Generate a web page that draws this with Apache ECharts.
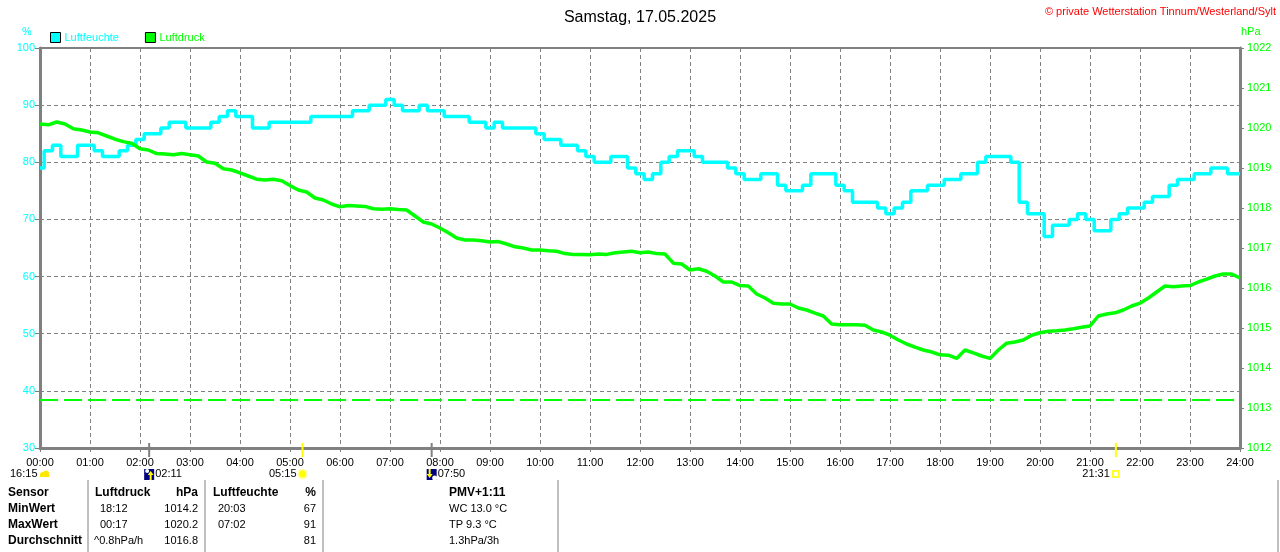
<!DOCTYPE html>
<html>
<head>
<meta charset="utf-8">
<script src="https://cdn.jsdelivr.net/npm/echarts@6/dist/echarts.min.js"></script>
<style>
html,body{margin:0;padding:0;background:#fff;}
#chart{width:1280px;height:552px;}
</style>
</head>
<body>
<div id="chart"></div>
<script>
// ---- data (10-minute samples, 00:00 .. 24:00) ----
const stepMinutes = 10;
const humidity = [
  79,82,83,81,81,83,
  83,82,81,81,82,83,
  84,85,85,86,87,87,
  86,86,86,87,88,89,
  88,88,86,86,87,87,
  87,87,87,88,88,88,
  88,88,89,89,90,90,
  91,90,89,89,90,89,
  89,88,88,88,87,87,
  86,87,86,86,86,86,
  85,84,84,83,83,82,
  81,80,80,81,81,79,
  78,77,78,80,81,82,
  82,81,80,80,80,79,
  78,77,77,78,78,76,
  75,75,76,78,78,78,
  76,75,73,73,73,72,
  71,72,73,75,75,76,
  76,77,77,78,78,80,
  81,81,81,80,73,71,
  71,67,69,69,70,71,
  70,68,68,70,71,72,
  72,73,74,74,76,77,
  77,78,78,79,79,78,
  78
];
const pressure = [
  1020.10,1020.08,1020.15,1020.10,1019.98,1019.95,
  1019.90,1019.88,1019.80,1019.72,1019.66,1019.62,
  1019.48,1019.45,1019.36,1019.35,1019.33,1019.36,
  1019.33,1019.30,1019.15,1019.12,1018.98,1018.95,
  1018.88,1018.80,1018.72,1018.70,1018.72,1018.68,
  1018.56,1018.45,1018.40,1018.25,1018.20,1018.10,
  1018.03,1018.06,1018.05,1018.04,1017.98,1017.97,
  1017.98,1017.96,1017.95,1017.80,1017.65,1017.60,
  1017.50,1017.38,1017.25,1017.20,1017.20,1017.18,
  1017.15,1017.16,1017.10,1017.03,1017.00,1016.95,
  1016.95,1016.93,1016.92,1016.86,1016.84,1016.84,
  1016.83,1016.85,1016.84,1016.88,1016.90,1016.92,
  1016.88,1016.90,1016.86,1016.85,1016.62,1016.60,
  1016.45,1016.48,1016.42,1016.30,1016.15,1016.15,
  1016.06,1016.05,1015.85,1015.75,1015.62,1015.60,
  1015.60,1015.50,1015.45,1015.37,1015.30,1015.10,
  1015.08,1015.08,1015.08,1015.07,1014.95,1014.90,
  1014.82,1014.70,1014.60,1014.52,1014.45,1014.40,
  1014.33,1014.32,1014.24,1014.45,1014.38,1014.30,
  1014.24,1014.45,1014.62,1014.65,1014.70,1014.82,
  1014.88,1014.92,1014.93,1014.95,1014.98,1015.02,
  1015.05,1015.30,1015.35,1015.38,1015.45,1015.55,
  1015.62,1015.75,1015.90,1016.05,1016.03,1016.05,
  1016.06,1016.15,1016.22,1016.30,1016.35,1016.35,
  1016.25
];
const pressureRef = 1013.2;

// sun / moon events (minutes since midnight)
const eventMinutes = [131, 315, 470, 1291];
const eventLabels = ['02:11', '05:15', '07:50', '21:31'];
const eventKinds = ['moonrise', 'sunrise', 'moonset', 'sunset'];
const dayLengthLabel = '16:15';

// axes
const humMin = 30, humMax = 100, humStep = 10;
const presMin = 1012, presMax = 1022, presStep = 1;
const timeMax = 1440, timeStep = 60;

// texts
const titleText = 'Samstag, 17.05.2025';
const copyrightText = '\u00A9 private Wetterstation Tinnum/Westerland/Sylt';
const seriesNames = ['Luftfeuchte', 'Luftdruck'];

// table
const tableHeader = ['Sensor', 'Luftdruck', 'hPa', 'Luftfeuchte', '%', 'PMV+1:11'];
const rowLabels = ['MinWert', 'MaxWert', 'Durchschnitt'];
const pressTimes = ['18:12', '00:17', '^0.8hPa/h'];
const pressVals = ['1014.2', '1020.2', '1016.8'];
const humTimes = ['20:03', '07:02', ''];
const humVals = ['67', '91', '81'];
const extraInfo = ['WC 13.0 \u00B0C', 'TP 9.3 \u00B0C', '1.3hPa/3h'];

// ---- chart ----
const FF = '"Liberation Sans", Arial, sans-serif';
const CYAN = '#00ffff', GREEN = '#00ff00', GRAY = '#808080', YEL = '#ffff00';
const pad2 = n => (n < 10 ? '0' : '') + n;

const humData = humidity.map((v, i) => [i * stepMinutes, v]);
const presData = pressure.map((v, i) => [i * stepMinutes, v]);
const eventData = eventMinutes.map((m, i) => [m, humMin, i]);

function renderEvent(params, api) {
  const i = api.value(2);
  const p = api.coord([api.value(0), api.value(1)]);
  const x = p[0], y = p[1];
  const kind = eventKinds[i];
  const isSun = kind === 'sunrise' || kind === 'sunset';
  const iy = y + 26;
  const ch = [];
  ch.push({type: 'rect', shape: {x: x - 1, y: y - 5, width: 2, height: 14}, style: {fill: isSun ? YEL : GRAY}});
  if (kind === 'sunrise') {
    ch.push({type: 'circle', shape: {cx: x, cy: iy, r: 5.5}, style: {fill: '#ffffb0'}});
    ch.push({type: 'circle', shape: {cx: x, cy: iy, r: 3.5}, style: {fill: YEL}});
  } else if (kind === 'sunset') {
    ch.push({type: 'rect', shape: {x: x - 3, y: iy - 3, width: 6, height: 6}, style: {fill: '#fff', stroke: YEL, lineWidth: 1.5}});
  } else if (kind === 'moonrise') {
    ch.push({type: 'rect', shape: {x: x - 5, y: iy - 5, width: 10, height: 11}, style: {fill: '#000080'}});
    ch.push({type: 'circle', shape: {cx: x - 2, cy: iy - 3, r: 2}, style: {fill: '#fff'}});
    ch.push({type: 'polygon', shape: {points: [[x + 0.5, iy + 6], [x + 0.5, iy + 1], [x - 1.5, iy + 1], [x + 1.5, iy - 3], [x + 4.5, iy + 1], [x + 2.5, iy + 1], [x + 2.5, iy + 6]]}, style: {fill: YEL}});
  } else {
    ch.push({type: 'rect', shape: {x: x - 5, y: iy - 5, width: 10, height: 11}, style: {fill: '#000080'}});
    ch.push({type: 'circle', shape: {cx: x + 3, cy: iy + 4, r: 2.5}, style: {fill: '#fff'}});
    ch.push({type: 'polygon', shape: {points: [[x - 3, iy - 5], [x - 3, iy], [x - 5, iy], [x - 2, iy + 4], [x + 1, iy], [x - 1, iy], [x - 1, iy - 5]]}, style: {fill: YEL}});
  }
  ch.push({type: 'text', style: {
    text: eventLabels[i], x: isSun ? x - 6 : x + 6, y: iy,
    align: isSun ? 'right' : 'left', verticalAlign: 'middle',
    font: '11px ' + FF, fill: '#000'
  }});
  return {type: 'group', children: ch};
}

// table graphics
const tableGraphics = [];
const rowY = [493, 509, 525, 541];
const boldFont = 'bold 12px ' + FF, normFont = '11px ' + FF;
function txt(t, x, y, align, font) {
  tableGraphics.push({type: 'text', silent: true, style: {text: t, x: x, y: y, align: align, verticalAlign: 'middle', font: font, fill: '#000'}});
}
[88, 205, 323, 558, 1278].forEach(lx => {
  tableGraphics.push({type: 'line', silent: true, shape: {x1: lx, y1: 480, x2: lx, y2: 552}, style: {stroke: GRAY, lineWidth: 1}});
});
txt(tableHeader[0], 8, rowY[0], 'left', boldFont);
txt(tableHeader[1], 95, rowY[0], 'left', boldFont);
txt(tableHeader[2], 198, rowY[0], 'right', boldFont);
txt(tableHeader[3], 213, rowY[0], 'left', boldFont);
txt(tableHeader[4], 316, rowY[0], 'right', boldFont);
txt(tableHeader[5], 449, rowY[0], 'left', boldFont);
rowLabels.forEach((r, i) => {
  const y = rowY[i + 1];
  txt(r, 8, y, 'left', boldFont);
  txt(pressTimes[i], i === 2 ? 94 : 100, y, 'left', normFont);
  txt(pressVals[i], 198, y, 'right', normFont);
  txt(humTimes[i], 218, y, 'left', normFont);
  txt(humVals[i], 316, y, 'right', normFont);
  txt(extraInfo[i], 449, y, 'left', normFont);
});

// cloud icon + day length + units + copyright
const extraGraphics = [
  {type: 'text', silent: true, style: {text: dayLengthLabel, x: 10, y: 474, align: 'left', verticalAlign: 'middle', font: '11px ' + FF, fill: '#000'}},
  {type: 'group', silent: true, children: [
    {type: 'circle', shape: {cx: 42.5, cy: 474.5, r: 2.5}, style: {fill: '#ffe800'}},
    {type: 'circle', shape: {cx: 46, cy: 473.5, r: 3}, style: {fill: '#ffe800'}},
    {type: 'rect', shape: {x: 40, y: 474.5, width: 9.5, height: 2.5}, style: {fill: '#ffe800'}}
  ]},
  {type: 'text', silent: true, style: {text: '%', x: 27, y: 32, align: 'center', verticalAlign: 'middle', font: '11px ' + FF, fill: CYAN}},
  {type: 'text', silent: true, style: {text: 'hPa', x: 1241, y: 32, align: 'left', verticalAlign: 'middle', font: '11px ' + FF, fill: GREEN}},
  {type: 'text', silent: true, style: {text: copyrightText, x: 1276, y: 12, align: 'right', verticalAlign: 'middle', font: '11px ' + FF, fill: '#ff0000'}}
];

const chart = echarts.init(document.getElementById('chart'), null, {renderer: 'canvas'});
chart.setOption({
  animation: false,
  backgroundColor: '#ffffff',
  textStyle: {fontFamily: FF},
  title: {text: titleText, left: 'center', top: 5, textStyle: {fontSize: 16, fontWeight: 'normal', color: '#000', fontFamily: FF}},
  legend: {
    left: 50, top: 32, padding: 0, icon: 'rect', itemWidth: 10, itemHeight: 10, itemGap: 26,
    itemStyle: {borderColor: '#000', borderWidth: 1},
    textStyle: {fontSize: 11, fontFamily: FF, padding: [0, 0, 0, -1]},
    data: [
      {name: seriesNames[0], textStyle: {color: CYAN}},
      {name: seriesNames[1], textStyle: {color: GREEN}}
    ]
  },
  grid: {left: 40, right: 40, top: 48, bottom: 104, show: true, borderColor: GRAY, borderWidth: 2, backgroundColor: '#fff'},
  xAxis: {
    type: 'value', min: 0, max: timeMax, interval: timeStep,
    axisLine: {lineStyle: {color: GRAY, width: 3}},
    axisTick: {show: true, length: 4, lineStyle: {color: GRAY}},
    axisLabel: {color: '#000', fontSize: 11, fontFamily: FF, margin: 9, showMinLabel: true, showMaxLabel: true,
      formatter: v => pad2(Math.round(v / 60)) + ':00'},
    splitLine: {show: true, lineStyle: {color: GRAY, width: 1, type: [4, 3]}}
  },
  yAxis: [
    {
      type: 'value', min: humMin, max: humMax, interval: humStep, position: 'left',
      axisLine: {show: true, lineStyle: {color: GRAY, width: 3}},
      axisTick: {show: true, length: 5, lineStyle: {color: GRAY}},
      axisLabel: {color: CYAN, fontSize: 11, fontFamily: FF, margin: 5, formatter: v => String(v)},
      splitLine: {show: true, lineStyle: {color: GRAY, width: 1, type: [4, 3]}}
    },
    {
      type: 'value', min: presMin, max: presMax, interval: presStep, position: 'right',
      axisLine: {show: true, lineStyle: {color: GRAY, width: 3}},
      axisTick: {show: true, length: 4, lineStyle: {color: GRAY}},
      axisLabel: {color: GREEN, fontSize: 11, fontFamily: FF, margin: 7, formatter: v => String(v)},
      splitLine: {show: false}
    }
  ],
  series: [
    {
      name: seriesNames[0], type: 'line', yAxisIndex: 0, data: humData, step: 'middle',
      showSymbol: false, symbol: 'none', color: CYAN,
      lineStyle: {color: CYAN, width: 3.5}, z: 3
    },
    {
      name: seriesNames[1], type: 'line', yAxisIndex: 1, data: presData,
      showSymbol: false, symbol: 'none', color: GREEN,
      lineStyle: {color: GREEN, width: 3.5}, z: 4,
      markLine: {
        silent: true, symbol: 'none', label: {show: false},
        lineStyle: {color: GREEN, type: [18, 6], width: 2},
        data: [{yAxis: pressureRef}]
      }
    },
    {
      type: 'custom', xAxisIndex: 0, yAxisIndex: 0, data: eventData,
      renderItem: renderEvent, clip: false, silent: true, z: 10
    }
  ],
  graphic: tableGraphics.concat(extraGraphics)
});
</script>
</body>
</html>
